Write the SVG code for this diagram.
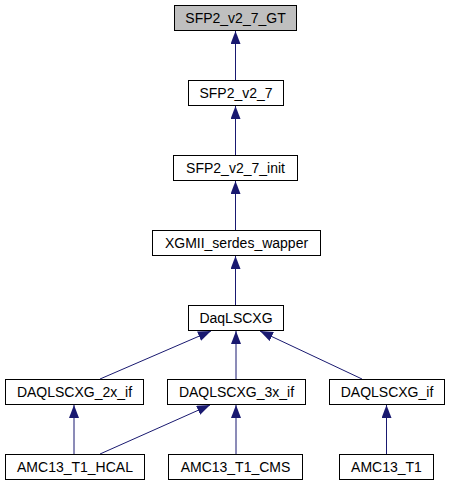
<svg xmlns="http://www.w3.org/2000/svg" width="449" height="485" viewBox="0 0 449 485">
<style>
.n rect{fill:#ffffff;stroke:#000000;stroke-width:1}
.n text{font-family:"Liberation Sans",Arial,sans-serif;font-size:14px;fill:#000000;text-anchor:middle}
#edges line{stroke:#191970;stroke-width:1;marker-end:url(#ah)}
</style>
<defs>
<marker id="ah" viewBox="0 0 13 10" refX="13" refY="5" markerWidth="13" markerHeight="10" orient="auto" markerUnits="userSpaceOnUse">
<path d="M0,0 L13,5 L0,10 z" fill="#191970"/>
</marker>
</defs>
<rect width="449" height="485" fill="#ffffff"/>
<g id="edges">
<line x1="235.5" y1="80" x2="235.5" y2="31"/>
<line x1="235.5" y1="155" x2="235.5" y2="106"/>
<line x1="235.5" y1="230" x2="235.5" y2="181"/>
<line x1="235.5" y1="305" x2="235.5" y2="256"/>
<line x1="100" y1="379" x2="211" y2="331"/>
<line x1="236" y1="379" x2="236" y2="331"/>
<line x1="362" y1="379" x2="260" y2="331"/>
<line x1="74" y1="454" x2="74" y2="405"/>
<line x1="100" y1="454" x2="210" y2="405"/>
<line x1="236" y1="454" x2="236" y2="405"/>
<line x1="386.5" y1="454" x2="386.5" y2="405"/>
</g>
<g id="n_gt" class="n"><rect x="174.5" y="5.5" width="122" height="25" style="fill:#bfbfbf"/><text x="235.5" y="23">SFP2_v2_7_GT</text></g>
<g id="n_sfp" class="n"><rect x="188.5" y="80.5" width="95" height="25"/><text x="236" y="98">SFP2_v2_7</text></g>
<g id="n_init" class="n"><rect x="173.5" y="155.5" width="124" height="25"/><text x="235.5" y="173">SFP2_v2_7_init</text></g>
<g id="n_xgmii" class="n"><rect x="152.5" y="230.5" width="168" height="25"/><text x="236.5" y="248">XGMII_serdes_wapper</text></g>
<g id="n_daq" class="n"><rect x="188.5" y="305.5" width="95" height="25"/><text x="236" y="323">DaqLSCXG</text></g>
<g id="n_2x" class="n"><rect x="5.5" y="379.5" width="138" height="25"/><text x="74.5" y="397">DAQLSCXG_2x_if</text></g>
<g id="n_3x" class="n"><rect x="167.5" y="379.5" width="138" height="25"/><text x="236.5" y="397">DAQLSCXG_3x_if</text></g>
<g id="n_if" class="n"><rect x="329.5" y="379.5" width="115" height="25"/><text x="387" y="397">DAQLSCXG_if</text></g>
<g id="n_hcal" class="n"><rect x="5.5" y="454.5" width="139" height="25"/><text x="75" y="472">AMC13_T1_HCAL</text></g>
<g id="n_cms" class="n"><rect x="168.5" y="454.5" width="134" height="25"/><text x="235.5" y="472">AMC13_T1_CMS</text></g>
<g id="n_t1" class="n"><rect x="339.5" y="454.5" width="94" height="25"/><text x="386.5" y="472">AMC13_T1</text></g>
</svg>
